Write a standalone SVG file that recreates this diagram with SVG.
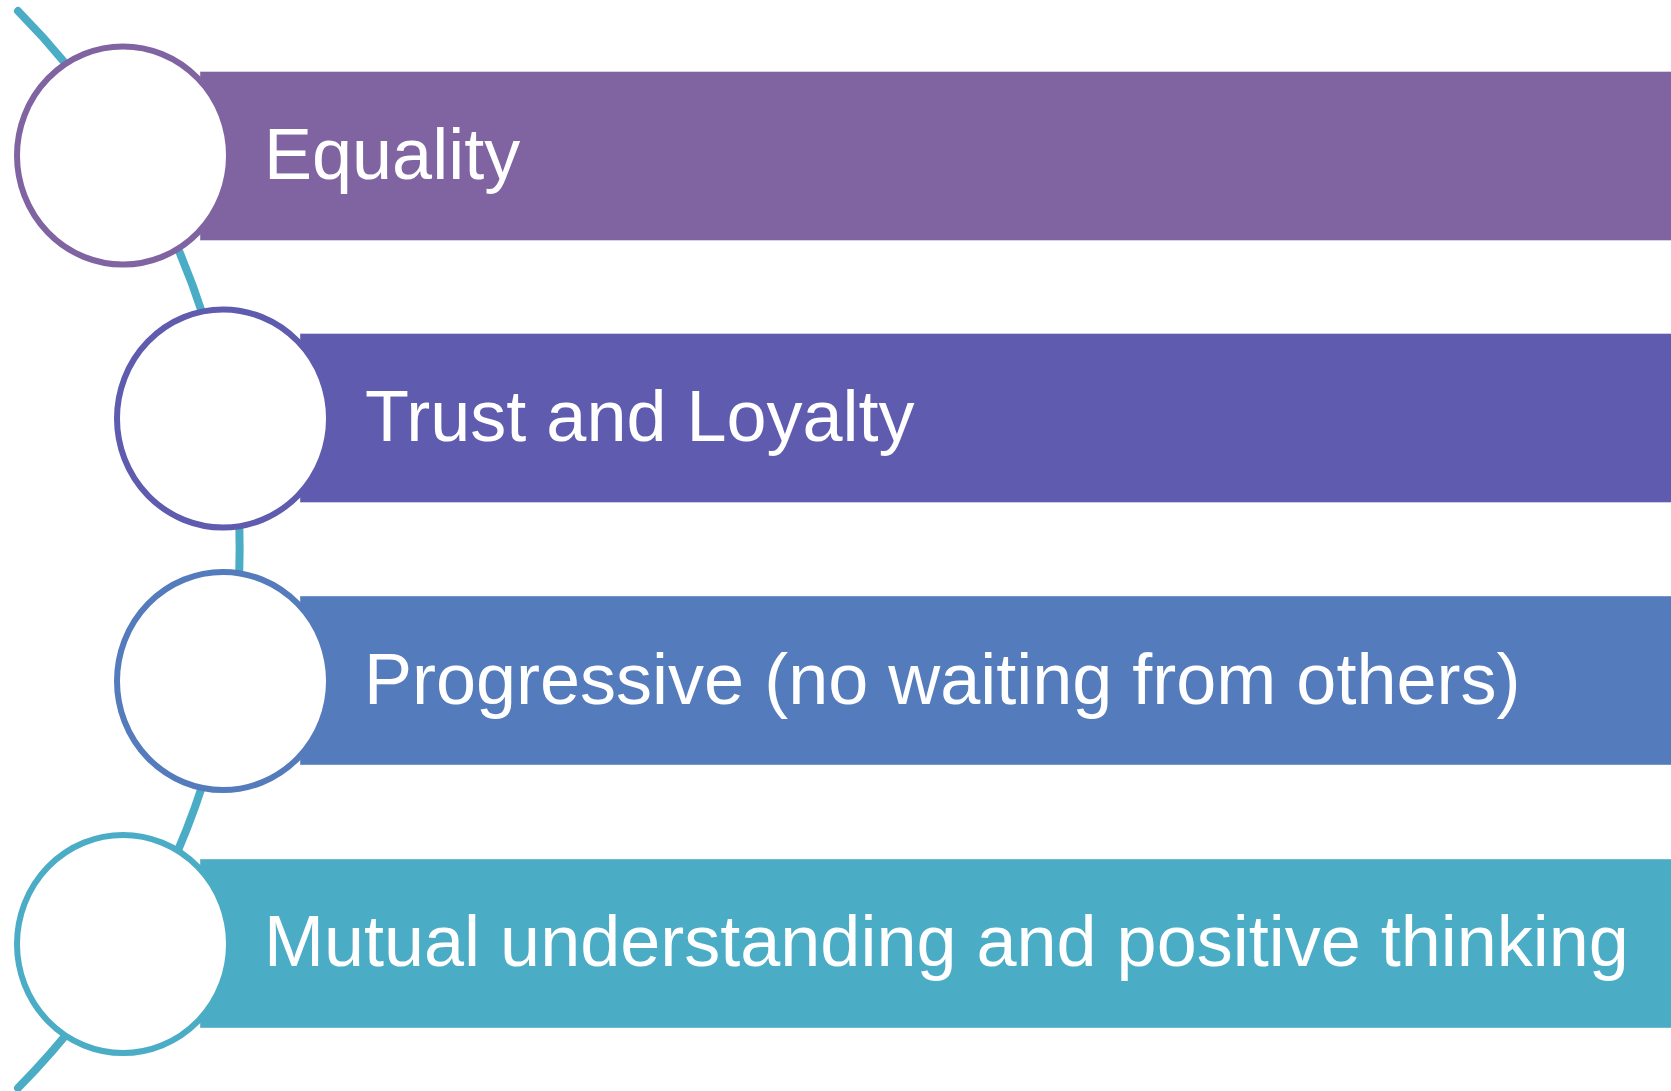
<svg xmlns="http://www.w3.org/2000/svg" width="1671" height="1091" viewBox="0 0 1671 1091">
<style>
.bar{stroke:#ffffff;stroke-opacity:0.4;stroke-width:1}
.node{fill:#ffffff;stroke-width:6}
.lbl{font-family:"Liberation Sans",Arial,sans-serif;font-size:72px;fill:#ffffff}
</style>
<rect width="1671" height="1091" fill="#ffffff"/>
<g id="connectors">
<path d="M 18 11 A 765 765 0 0 1 18 1088" fill="none" stroke="#4BACC6" stroke-width="8" stroke-linecap="round"/>
</g>
<g id="node1">
<rect class="bar" x="200" y="71.5" width="1472" height="169" fill="#8064A2"/>
<ellipse class="node" cx="123" cy="155.5" rx="106" ry="109" stroke="#8064A2"/>
<text class="lbl" x="264" y="179">Equality</text>
</g>
<g id="node2">
<rect class="bar" x="300" y="333.5" width="1372" height="169" fill="#5F5BAE"/>
<ellipse class="node" cx="223" cy="418.5" rx="106" ry="109" stroke="#5F5BAE"/>
<text class="lbl" x="365" y="441">Trust and Loyalty</text>
</g>
<g id="node3">
<rect class="bar" x="300" y="596" width="1372" height="169" fill="#547BBB"/>
<ellipse class="node" cx="223" cy="681" rx="106" ry="109" stroke="#547BBB"/>
<text class="lbl" x="364" y="704">Progressive (no waiting from others)</text>
</g>
<g id="node4">
<rect class="bar" x="200" y="859" width="1472" height="169" fill="#4BACC6"/>
<ellipse class="node" cx="123" cy="944" rx="106" ry="109" stroke="#4BACC6"/>
<text class="lbl" x="264" y="966">Mutual understanding and positive thinking</text>
</g>
</svg>
